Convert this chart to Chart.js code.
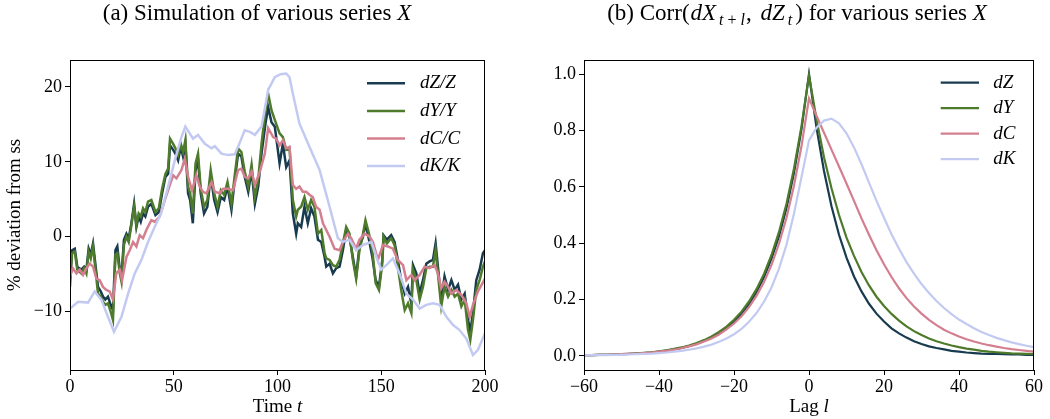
<!DOCTYPE html>
<html lang="en">
<head>
<meta charset="UTF-8">
<title>Simulation and lag correlations</title>
<script src="https://cdn.jsdelivr.net/npm/chart.js@4"></script>
<style>
    body { margin: 0; background: #fff; }
    .wrap { position: relative; width: 1050px; height: 419px; }
    canvas { position: absolute; top: 0; }
    #sim-chart { left: 0; }
    #corr-chart { left: 525px; }
</style>
</head>
<body>
<div class="wrap">
    <canvas id="sim-chart" width="525" height="419"></canvas>
    <canvas id="corr-chart" width="525" height="419"></canvas>
</div>
<script>
// ---- panel (a): simulated series, % deviation from steady state ----
const simLabels = ['dZ/Z', 'dY/Y', 'dC/C', 'dK/K'];
const simXTicks = [0, 50, 100, 150, 200];
const simYTicks = [-10, 0, 10, 20];

// dZ and dY read at the same time points
const simTime = [0,1.0,2.3,3.5,5.5,6.8,7.9,9.0,10.0,11.1,12.2,13.5,14.8,15.9,17.0,18.3,19.6,20.7,21.9,22.8,
    24.0,24.8,26.0,27.2,28.3,29.6,30.9,32.0,33.1,34.1,35.2,36.3,37.6,39.2,41.2,42.8,44.4,46.0,47.3,48.2,
    49.7,50.8,52.1,53.4,54.5,55.6,56.9,57.9,59.2,60.5,61.7,63.0,64.6,66.2,67.8,69.5,71.1,72.7,74.3,75.9,
    77.8,79.4,81.0,82.6,84.2,85.9,87.5,89.1,90.7,92.3,94.2,95.5,97.1,98.7,
    101.0,102.6,104.2,105.8,107.4,109.0,109.8,111.4,113.0,114.6,116.2,117.8,119.5,121.1,122.7,123.5,
    125.1,126.7,128.3,129.9,131.5,133.1,134.7,136.3,137.9,139.5,141.2,142.4,144.1,145.7,147.3,148.9,
    150.5,151.1,152.7,154.8,156.4,158.0,159.6,161.3,162.9,164.5,165.3,166.9,168.5,170.1,171.7,173.3,
    174.9,176.2,177.3,178.9,180.5,182.2,183.8,185.4,187.0,188.6,190.2,191.8,192.9,194.2,195.8,197.4,199.0,200.0];

const simZ = [-5.5,-1.8,-1.6,-4.0,-4.4,-4.0,-4.4,-1.6,-2.4,-0.9, -3.6,-6.7,-7.3,-8.0,-8.4,-8.0,-9.1,-9.8,-1.8,-1.3,
    -4.4,-5.3,-0.4,0.4,-0.2,1.8,4.4,1.3,2.7,2.0, 3.1,2.7,4.0,4.4,2.9,3.3,5.8,8.0,8.4,12.2,
    11.6,11.1,10.2,12.0,10.7,12.4,5.8,4.9,1.8,8.9, 10.2,5.8,3.1,4.0,8.2,4.9,3.3,5.3,4.9,6.7,
    3.6,7.6,11.1,10.7,8.0,6.0,8.9,4.4,6.7,11.1, 15.1,17.3,15.3,14.7,
    9.8,12.4,9.3,10.2,3.1,0.4,1.8,1.3,4.0,1.8, 3.8,2.7,-0.4,-0.7,-2.7,-4.0,-3.6,-4.9,-4.2,-4.0,
    -1.8,0.9,0,-2.7,-5.3,-1.3,0,1.8,-0.4,-2.7, -5.8,-6.7,-3.1,0.2,-0.4,0.2,-0.7,-3.1,-5.8,-7.6,
    -6.7,-8.9,-3.8,-4.9,-7.6,-5.8,-3.6,-3.3,-3.1,-0.9, -4.0,-8.4,-5.3,-7.1,-5.8,-7.1,-6.4,-8.4,-7.6,-11.1,
    -12.6,-10.2,-5.8,-4.4,-2.2,-1.8];

const simY = [-6.7,-2.2,-2.0,-4.4,-4.9,-4.2,-4.9,-2.0,-2.9,-1.3, -4.2,-7.6,-8.0,-8.7,-9.1,-8.9,-10.0,-11.1,-2.4,-2.2,
    -4.9,-6.0,-1.1,0,-0.7,1.6,4.0,1.6,3.1,2.7, 3.8,3.3,4.7,4.9,3.3,3.8,6.4,8.4,9.1,13.1,
    12.4,11.8,10.9,12.4,11.3,12.9,6.7,5.8,3.1,9.8, 11.1,6.4,4.0,4.9,8.9,5.8,4.0,6.2,5.6,7.3,
    4.4,8.2,11.8,11.3,8.7,6.7,9.6,5.3,7.6,12.4, 16.9,19.1,16.9,15.6,
    13.8,13.3,11.6,11.8,4.9,2.7,3.6,4.0,5.3,3.6, 4.9,4.0,0.4,0.9,-2.2,-2.9,-3.1,-3.8,-4.0,-3.1,
    -0.9,1.3,0.4,-3.1,-5.6,-1.8,0.4,2.2,0.4,-1.8, -6.2,-7.1,-3.6,0,-0.9,-0.2,-1.1,-4.0,-7.1,-9.8,
    -8.9,-10.2,-4.4,-5.8,-8.4,-6.7,-4.2,-4.0,-4.0,-1.8, -4.9,-9.3,-6.7,-8.0,-7.1,-8.0,-7.6,-9.3,-8.4,-12.4,
    -13.8,-11.1,-7.1,-5.8,-4.0,-3.3];

const simTimeC = [0,1.4,3.1,4.7,6.3,7.9,9.5,11.1,12.7,14.3, 15.9,17.5,19.1,20.7,22.3,24.0,25.1,27.2,28.8,30.4,
    32.0,33.6,35.2,36.8,39.2,40.8,43.2,45.7,48.1,49.7, 51.3,53.7,55.3,56.9,58.8,60.9,62.5,64.1,65.8,68.2,
    69.8,72.2,73.8,76.2,78.6,81.0,82.6,84.2,85.9,87.5, 89.1,91.5,93.9,95.5,97.9,99.4,101.0,102.6,104.2,105.8,
    107.4,109.0,110.6,112.2,113.8,115.4,117.0,118.6,120.3,121.9, 123.5,125.1,127.5,129.9,131.5,133.9,135.5,137.9,139.5,142.0,
    144.4,146.0,148.4,150.8,153.2,155.6,158.0,160.5,162.1,164.5, 166.1,168.5,170.9,173.3,175.7,177.3,178.9,180.5,182.2,183.8,
    186.2,188.6,191.0,192.6,194.2,196.6,200.0];
const simC = [-5.3,-4.2,-4.9,-4.4,-5.1,-4.2,-3.6,-4.0,-5.6,-5.8, -6.7,-7.1,-7.3,-8.4,-4.9,-4.4,-5.8,-2.7,-1.8,-0.7,
    -1.3,0.2,-0.2,0.9,2.2,2.0,2.7,4.9,6.9,8.2, 7.8,8.9,10.4,8.0,6.2,8.2,6.7,6.0,5.8,7.3,
    6.0,5.8,6.4,6.4,6.2,8.9,9.1,8.0,7.8,8.7, 6.9,8.7,11.1,14.5,13.3,13.1,12.2,12.9,11.8,12.0,
    6.9,6.4,6.7,6.0,6.0,5.6,5.3,4.0,3.6,1.8, 0.9,0,-1.6,-1.8,-0.7,0.4,-0.2,-1.6,-0.4,0.4,
    0,-0.7,-3.1,-1.1,-1.3,-1.6,-3.1,-3.8,-5.8,-5.1, -5.8,-5.1,-4.0,-4.2,-3.8,-4.9,-6.9,-6.0,-6.7,-7.6,
    -7.1,-7.8,-8.9,-10.7,-9.1,-7.3,-5.6];

const simTimeK = [0,3.9,8.7,11.9,15.1,18.3,21.2,24.8,28.0,31.2, 34.4,37.6,40.8,44.1,47.3,50.5,53.7,55.6,59.3,61.7,
    65.0,68.2,69.8,73.0,76.2,79.4,81.0,84.2,86.7,89.1, 92.3,95.5,98.7,101.5,104.2,105.8,107.4,110.6,115.4,120.3,
    125.1,129.1,131.5,134.7,137.9,141.2,145.2,147.6,150.0,153.2, 155.6,158.8,162.1,165.3,168.5,171.7,174.9,178.1,181.4,184.6,
    187.5,191.0,194.2,196.6,200.0];
const simK = [-9.6,-8.7,-8.8,-7.3,-8.4,-10.7,-12.7,-10.7,-7.6,-4.9, -3.1,-0.7,1.3,3.3,6.7,10.2,13.3,14.7,13.1,13.6,
    12.4,11.8,12.1,11.1,10.9,11.0,12.0,14.2,14.0,13.6, 14.7,19.6,21.3,21.7,21.8,21.3,19.1,15.1,12.0,8.9,
    4.0,-0.2,-0.7,-0.4,-1.8,-1.1,-0.7,-2.7,-4.4,-3.6, -2.9,-4.9,-7.6,-8.4,-9.6,-9.1,-8.9,-9.1,-10.7,-11.8,
    -12.4,-13.6,-15.8,-15.1,-12.9];

// ---- panel (b): Corr(dX_{t+l}, dZ_t) ----
const corrLabels = ['dZ', 'dY', 'dC', 'dK'];
const corrXTicks = [-60, -40, -20, 0, 20, 40, 60];
const corrYTicks = [0, 0.2, 0.4, 0.6, 0.8, 1.0];
const corrLags = [-60,-58,-56,-54,-52,-50,-48,-46,-44,-42,-40,-38,-36,-34,-32,-30,-28,-26,-24,-22,-20,-18,-16,-14,-12,-10,-8,-6,-4,-2,
    0,2,4,6,8,10,12,14,16,18,20,22,24,26,28,30,32,34,36,38,40,42,44,46,48,50,52,54,56,58,60];
const corrZ = [0.003,0.003,0.004,0.004,0.005,0.006,0.007,0.008,0.010,0.012, 0.015,0.019,0.023,0.028,0.035,0.043,0.053,0.065,0.080,0.099,
    0.121,0.150,0.184,0.227,0.280,0.345,0.425,0.525,0.650,0.805, 1.000,
    0.810,0.656,0.531,0.430,0.349,0.282,0.229,0.185,0.150,0.122, 0.098,0.080,0.065,0.052,0.042,0.034,0.028,0.023,0.018,0.015,
    0.012,0.010,0.008,0.007,0.007,0.006,0.005,0.005,0.004,0.004];
const corrY = [0.003,0.003,0.004,0.004,0.005,0.006,0.007,0.009,0.011,0.013, 0.016,0.020,0.025,0.030,0.037,0.046,0.056,0.069,0.085,0.104,
    0.128,0.157,0.193,0.237,0.291,0.358,0.440,0.540,0.665,0.815, 0.995,
    0.840,0.705,0.595,0.500,0.420,0.355,0.298,0.250,0.210,0.177, 0.149,0.125,0.105,0.088,0.074,0.062,0.052,0.044,0.037,0.031,
    0.026,0.022,0.018,0.015,0.013,0.011,0.009,0.008,0.007,0.006];
const corrC = [0.003,0.003,0.004,0.004,0.005,0.006,0.007,0.008,0.010,0.012, 0.015,0.018,0.022,0.027,0.034,0.041,0.051,0.062,0.076,0.094,
    0.115,0.141,0.173,0.213,0.262,0.323,0.398,0.490,0.605,0.745, 0.914,
    0.852,0.792,0.732,0.672,0.612,0.550,0.488,0.430,0.375,0.325, 0.280,0.240,0.205,0.175,0.150,0.128,0.109,0.093,0.080,0.069,
    0.059,0.051,0.044,0.038,0.033,0.028,0.024,0.021,0.018,0.015];
const corrK = [0.002,0.003,0.003,0.003,0.004,0.004,0.005,0.006,0.007,0.008, 0.010,0.012,0.015,0.018,0.022,0.027,0.033,0.040,0.050,0.062,
    0.077,0.096,0.121,0.152,0.192,0.243,0.310,0.395,0.505,0.635, 0.765,
    0.810,0.835,0.842,0.825,0.790,0.740,0.680,0.615,0.550,0.490, 0.432,0.380,0.333,0.292,0.255,0.223,0.195,0.170,0.148,0.129,
    0.113,0.098,0.085,0.074,0.064,0.056,0.048,0.042,0.036,0.031];

const colors = ['#183b4f', '#4e7b2b', '#d47f8f', '#c3caf2'];
const FONT = '"Liberation Serif", "Times New Roman", serif';

Chart.defaults.font.family = FONT;
Chart.defaults.font.size = 18;
Chart.defaults.color = '#000';

// draw a run of text pieces (italic / subscript, optional extra gap after)
function drawParts(ctx, parts, x, y, size, align) {
    const fontOf = p => (p.i ? 'italic ' : '') + (p.s ? Math.round(size * 0.7) : size) + 'px ' + FONT;
    let total = 0;
    parts.forEach(p => { ctx.font = fontOf(p); total += ctx.measureText(p.t).width + (p.pad || 0); });
    let cx = align === 'center' ? x - total / 2 : x;
    ctx.textAlign = 'left';
    ctx.textBaseline = 'alphabetic';
    parts.forEach(p => {
        ctx.font = fontOf(p);
        ctx.fillText(p.t, cx, p.s ? y + size * 0.22 : y);
        cx += ctx.measureText(p.t).width + (p.pad || 0);
    });
}

const decorPlugin = {
    id: 'decor',
    afterDraw(chart, args, o) {
        const ctx = chart.ctx;
        const a = chart.chartArea;
        ctx.save();
        ctx.fillStyle = '#000';
        // full frame
        ctx.strokeStyle = '#000';
        ctx.lineWidth = 1;
        ctx.strokeRect(Math.round(a.left) + 0.5, Math.round(a.top) + 0.5,
            Math.round(a.right - a.left) - 1, Math.round(a.bottom - a.top));
        // title
        drawParts(ctx, o.title, o.titleX, o.titleY, 23, 'center');
        // x axis title
        drawParts(ctx, o.xTitle, (a.left + a.right) / 2, o.xTitleY, 19, 'center');
        // y axis title
        if (o.yTitle) {
            ctx.save();
            ctx.translate(o.yTitleX, (a.top + a.bottom) / 2);
            ctx.rotate(-Math.PI / 2);
            drawParts(ctx, o.yTitle, 0, 0, 19, 'center');
            ctx.restore();
        }
        // legend inside the axes
        const lg = o.legend;
        lg.labels.forEach((lab, i) => {
            const y = a.top + lg.y0 + i * lg.dy;
            ctx.strokeStyle = colors[i];
            ctx.lineWidth = lg.lineWidth;
            ctx.beginPath();
            ctx.moveTo(a.right - lg.x1, y);
            ctx.lineTo(a.right - lg.x2, y);
            ctx.stroke();
            ctx.font = 'italic 19px ' + FONT;
            ctx.textAlign = 'left';
            ctx.textBaseline = 'middle';
            ctx.fillText(lab, a.right - lg.tx, y);
        });
        ctx.restore();
    }
};

const minusFmt = v => String(v).replace('-', '\u2212');

function series(xs, ys, i, width) {
    return {
        data: xs.map((x, k) => ({ x: x, y: ys[k] })),
        borderColor: colors[i],
        borderWidth: width,
        pointRadius: 0,
        tension: 0,
        fill: false,
        order: 3 - i
    };
}

function axis(min, max, tickVals, fmt, size, pad, isX) {
    return {
        type: 'linear',
        min: min,
        max: max,
        afterBuildTicks: s => { s.ticks = tickVals.map(v => ({ value: v })); },
        afterFit: s => { if (isX) s.height = size; else s.width = size; },
        ticks: { callback: fmt, padding: pad, autoSkip: false, maxRotation: 0 },
        grid: { drawOnChartArea: false, drawTicks: true, tickLength: 5, color: '#000' },
        border: { color: '#000', width: 1 }
    };
}

new Chart(document.getElementById('sim-chart'), {
    type: 'line',
    data: {
        datasets: [
            series(simTime, simZ, 0, 2.5),
            series(simTime, simY, 1, 2.5),
            series(simTimeC, simC, 2, 2.5),
            series(simTimeK, simK, 3, 2.5)
        ]
    },
    options: {
        responsive: false,
        animation: false,
        layout: { padding: { left: 0, right: 40, top: 60, bottom: 0 } },
        scales: {
            x: axis(0, 200, simXTicks, minusFmt, 49, 1, true),
            y: axis(-17.8, 23.6, simYTicks, minusFmt, 70, 3, false)
        },
        plugins: {
            legend: { display: false },
            tooltip: { enabled: false },
            decor: {
                title: [{ t: '(a) Simulation of various series ' }, { t: 'X', i: 1 }],
                titleX: 257, titleY: 20,
                xTitle: [{ t: 'Time ' }, { t: 't', i: 1 }],
                xTitleY: 412,
                yTitle: [{ t: '% deviation from ss' }],
                yTitleX: 20,
                legend: { labels: simLabels, x1: 118, x2: 80, tx: 65, y0: 23.3, dy: 27.6, lineWidth: 2.5 }
            }
        }
    },
    plugins: [decorPlugin]
});

new Chart(document.getElementById('corr-chart'), {
    type: 'line',
    data: {
        datasets: [
            series(corrLags, corrZ, 0, 2.2),
            series(corrLags, corrY, 1, 2.2),
            series(corrLags, corrC, 2, 2.2),
            series(corrLags, corrK, 3, 2.2)
        ]
    },
    options: {
        responsive: false,
        animation: false,
        layout: { padding: { left: 0, right: 16, top: 60, bottom: 0 } },
        scales: {
            x: axis(-60, 60, corrXTicks, minusFmt, 49, 1, true),
            y: axis(-0.05, 1.05, corrYTicks, v => v.toFixed(1), 59, 3, false)
        },
        plugins: {
            legend: { display: false },
            tooltip: { enabled: false },
            decor: {
                title: [{ t: '(b) Corr(', pad: 1 }, { t: 'dX', i: 1, pad: 3 }, { t: 't', i: 1, s: 1 },
                    { t: ' + ', s: 1 }, { t: 'l', i: 1, s: 1, pad: 1 }, { t: ', ', pad: 3 },
                    { t: 'dZ', i: 1, pad: 3 }, { t: 't', i: 1, s: 1, pad: 3 },
                    { t: ') for various series ' }, { t: 'X', i: 1 }],
                titleX: 272, titleY: 20,
                xTitle: [{ t: 'Lag ' }, { t: 'l', i: 1 }],
                xTitleY: 412,
                legend: { labels: corrLabels, x1: 93.3, x2: 55, tx: 40.7, y0: 22.7, dy: 25.5, lineWidth: 2.2 }
            }
        }
    },
    plugins: [decorPlugin]
});
</script>
</body>
</html>
